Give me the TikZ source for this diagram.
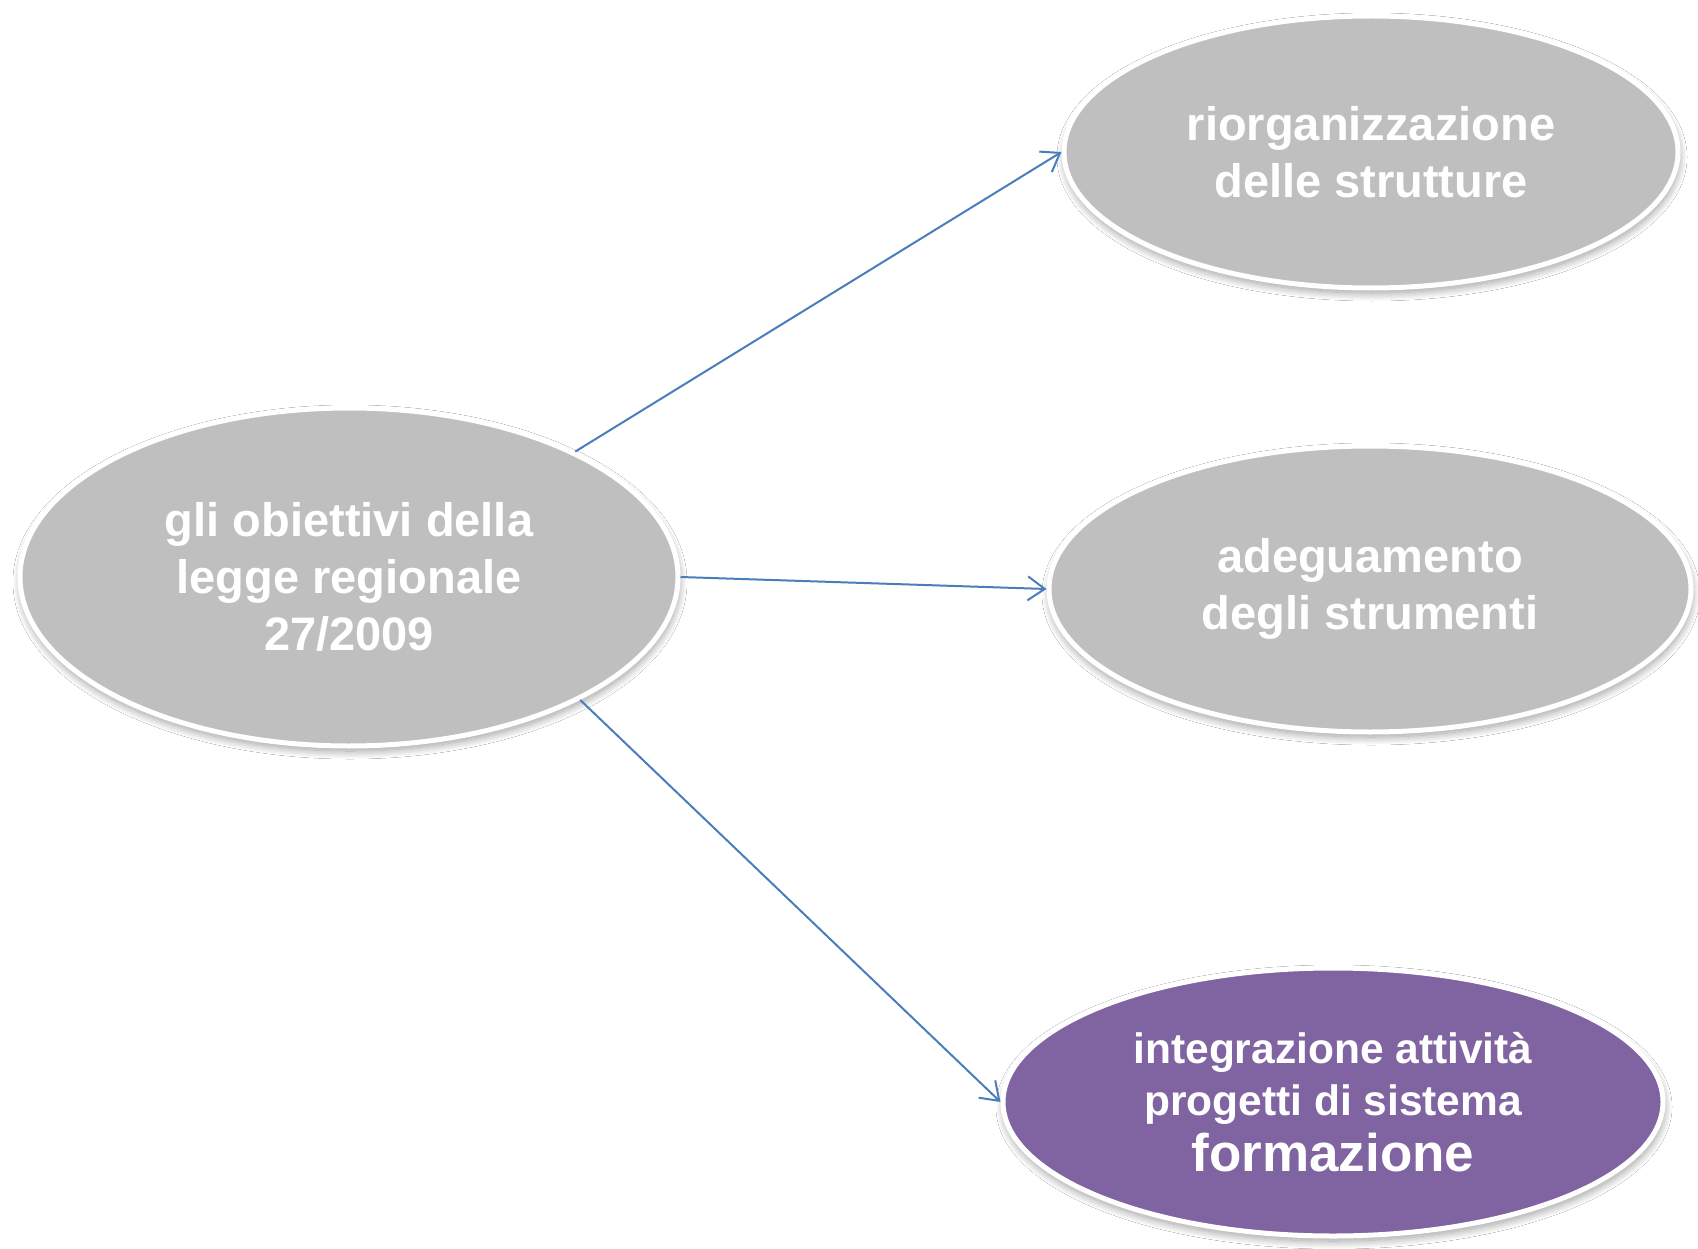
\documentclass[tikz,border=0pt]{standalone}
\usepackage{fontspec}
\setmainfont{Liberation Sans}
\usetikzlibrary{shapes.geometric,arrows.meta,shadows.blur}
\definecolor{ellgray}{HTML}{BFBFBF}
\definecolor{ellpurple}{HTML}{8064A2}
\definecolor{arrblue}{HTML}{4A7EBB}
\tikzset{
  oval/.style={ellipse, draw=white, line width=5pt, inner sep=0pt,
    text=white, align=center, font=\bfseries\fontsize{47}{57}\selectfont,
    blur shadow={shadow xshift=1pt, shadow yshift=-5pt, shadow blur radius=8pt,
      shadow blur steps=24, shadow opacity=40}},
  arr/.style={draw=arrblue, line width=2pt, -{Straight Barb[length=17pt,width=24pt,line width=2pt]}}
}
\begin{document}
\begin{tikzpicture}[x=1pt,y=-1pt]
\useasboundingbox[fill=white] (0,0) rectangle (1698,1249);
\node[oval, fill=ellgray, minimum width=658pt, minimum height=338pt] (L) at (349,577)
  {gli obiettivi della\\legge regionale\\27/2009};
\node[oval, fill=ellgray, minimum width=614pt, minimum height=272pt] (T) at (1371,152)
  {riorganizzazione\\delle strutture};
\node[oval, fill=ellgray, minimum width=642pt, minimum height=286pt] (M) at (1370,589)
  {adeguamento\\degli strumenti};
\node[oval, fill=ellpurple, minimum width=660pt, minimum height=268pt,
  font=\bfseries\fontsize{42.5}{52}\selectfont] (B) at (1333,1102)
  {integrazione attività\\progetti di sistema\\[4pt]{\fontsize{53}{56}\selectfont formazione}};
\draw[arr] (L.29) -- (T.west);
\draw[arr] (L.east) -- (M.west);
\draw[arr] (L.-28) -- (B.west);
\end{tikzpicture}
\end{document}
